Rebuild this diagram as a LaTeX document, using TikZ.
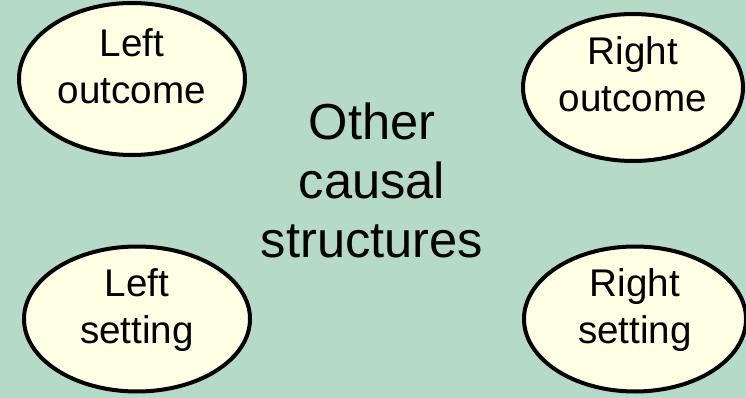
\documentclass[tikz,border=0pt]{standalone}
\usepackage{fontspec}
\setmainfont{Liberation Sans}
\usetikzlibrary{shapes.geometric}
\definecolor{bggreen}{HTML}{B5DBC8}
\definecolor{cream}{HTML}{FFFFE3}
\begin{document}
\begin{tikzpicture}
    [x=1pt, y=1pt,
     place/.style={ellipse, draw=black, fill=cream, line width=4pt,
      inner sep=0pt, align=center, text depth=26pt,
      font=\fontsize{38.6}{47}\selectfont},
     centre/.style={align=center, font=\fontsize{50.6}{59}\selectfont}]
    \fill[bggreen] (0,0) rectangle (746,-398);
    \useasboundingbox (0,0) rectangle (746,-398);

    \node[place, minimum width=226pt, minimum height=152pt] (leftout) at (132,-79) {Left\\outcome};
    \node[place, minimum width=220pt, minimum height=147pt] (rightout) at (633,-87.5) {Right\\outcome};
    \node[place, minimum width=226pt, minimum height=145pt] (leftset) at (137,-319) {Left\\setting};
    \node[place, minimum width=222pt, minimum height=145pt] (rightset) at (635,-319) {Right\\setting};

    \node[centre] (other) at (372,-180) {Other\\causal\\structures};
  \end{tikzpicture}
\end{document}
